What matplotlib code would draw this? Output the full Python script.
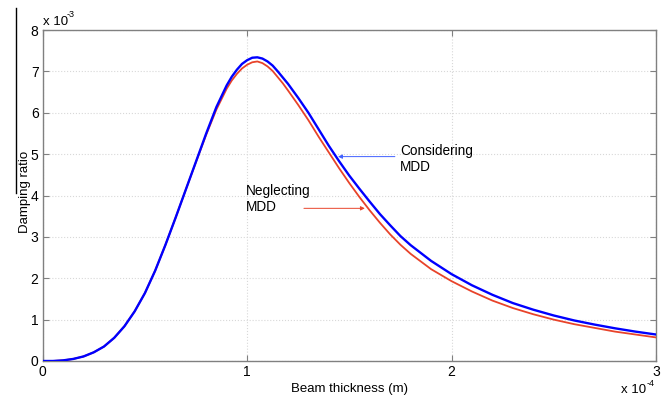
import matplotlib
matplotlib.use("Agg")
import matplotlib.pyplot as plt
from matplotlib.lines import Line2D
import numpy as np

plt.rcParams['font.family'] = ['Liberation Sans', 'DejaVu Sans']

# Beam thickness (units of 1e-4 m)
thickness = [0.00, 0.05, 0.10, 0.15, 0.20, 0.25, 0.30, 0.35, 0.40, 0.45, 0.50, 0.55,
             0.60, 0.65, 0.70, 0.75, 0.80, 0.85, 0.90, 0.925, 0.95, 0.975, 1.00, 1.025,
             1.05, 1.075, 1.10, 1.125, 1.15, 1.175, 1.20, 1.25, 1.30, 1.35, 1.40, 1.45,
             1.50, 1.55, 1.60, 1.65, 1.70, 1.75, 1.80, 1.90, 2.00, 2.10, 2.20, 2.30,
             2.40, 2.50, 2.60, 2.70, 2.80, 2.90, 3.00]
# Damping ratio (units of 1e-3)
considering_mdd = [0.00, 0.00, 0.015, 0.05, 0.11, 0.21, 0.35, 0.56, 0.84, 1.20, 1.64, 2.18,
                   2.80, 3.46, 4.14, 4.82, 5.50, 6.14, 6.66, 6.87, 7.04, 7.18, 7.27, 7.33,
                   7.34, 7.31, 7.24, 7.14, 7.00, 6.85, 6.70, 6.36, 6.00, 5.60, 5.20, 4.83,
                   4.48, 4.16, 3.85, 3.55, 3.28, 3.02, 2.80, 2.42, 2.10, 1.83, 1.60, 1.40,
                   1.24, 1.10, 0.98, 0.88, 0.79, 0.71, 0.64]
neglecting_mdd = [0.00, 0.00, 0.015, 0.05, 0.11, 0.21, 0.35, 0.56, 0.84, 1.20, 1.64, 2.18,
                  2.80, 3.46, 4.14, 4.81, 5.47, 6.08, 6.58, 6.78, 6.94, 7.07, 7.16, 7.22,
                  7.24, 7.20, 7.12, 7.01, 6.86, 6.71, 6.54, 6.19, 5.82, 5.42, 5.04, 4.66,
                  4.30, 3.96, 3.64, 3.34, 3.06, 2.81, 2.59, 2.22, 1.93, 1.68, 1.46, 1.28,
                  1.13, 1.00, 0.89, 0.80, 0.71, 0.64, 0.57]

x_ticks = [0, 1, 2, 3]
y_ticks = [0, 1, 2, 3, 4, 5, 6, 7, 8]

x = np.array(thickness) * 1e-4
yb = np.array(considering_mdd) * 1e-3
yr = np.array(neglecting_mdd) * 1e-3

fig = plt.figure(figsize=(6.7, 3.97), dpi=100)
ax = fig.add_axes([0.0637, 0.0907, 0.9153, 0.8337])

gray = '#808080'
ax.plot(x, yr, color='#e8432a', lw=1.3, zorder=3, solid_joinstyle='round')
ax.plot(x, yb, color='#0000ff', lw=1.7, zorder=4, solid_joinstyle='round')

ax.set_xlim(0, 3e-4)
ax.set_ylim(0, 8e-3)
ax.set_xticks([t * 1e-4 for t in x_ticks])
ax.set_xticklabels([str(t) for t in x_ticks])
ax.set_yticks([t * 1e-3 for t in y_ticks])
ax.set_yticklabels([str(t) for t in y_ticks])
ax.grid(True, color='#d8d8d8', linestyle=':', linewidth=0.8)
ax.tick_params(direction='in', length=4, width=0.8, color=gray, top=True, right=True,
               labelsize=10, labelcolor='black', pad=3)
for s in ax.spines.values():
    s.set_color(gray)
    s.set_linewidth(1.0)

ax.set_xlabel('Beam thickness (m)', fontsize=9.5, labelpad=3)
ax.set_ylabel('Damping ratio', fontsize=9.5)
ax.yaxis.set_label_coords(-0.0195, 0.51)

# exponent labels
fig.text(43 / 670, 1 - 25 / 397, 'x 10', fontsize=9.5, ha='left', va='baseline')
fig.text(66.5 / 670, 1 - 17 / 397, '-3', fontsize=6.5, ha='left', va='baseline')
fig.text(646 / 670, 1 - 393 / 397, 'x 10', fontsize=9.5, ha='right', va='baseline')
fig.text(646.5 / 670, 1 - 386 / 397, '-4', fontsize=6.5, ha='left', va='baseline')

ax.annotate('', xy=(1.445e-4, 4.94e-3), xytext=(1.723e-4, 4.94e-3),
            arrowprops=dict(arrowstyle='-|>', color='#4060ff', lw=0.7, mutation_scale=6,
                            shrinkA=0, shrinkB=0))
ax.text(1.747e-4, 4.88e-3, 'Considering\nMDD', fontsize=9.8, ha='left', va='center',
        linespacing=1.15)
ax.annotate('', xy=(1.576e-4, 3.69e-3), xytext=(1.278e-4, 3.69e-3),
            arrowprops=dict(arrowstyle='-|>', color='#e8432a', lw=0.7, mutation_scale=6,
                            shrinkA=0, shrinkB=0))
ax.text(0.994e-4, 3.91e-3, 'Neglecting\nMDD', fontsize=9.8, ha='left', va='center',
        linespacing=1.15)

fig.add_artist(Line2D([16 / 670, 16 / 670], [1 - 8 / 397, 1 - 193 / 397],
                      transform=fig.transFigure, color='black', lw=1.0))

fig.savefig('out.png', dpi=100)
